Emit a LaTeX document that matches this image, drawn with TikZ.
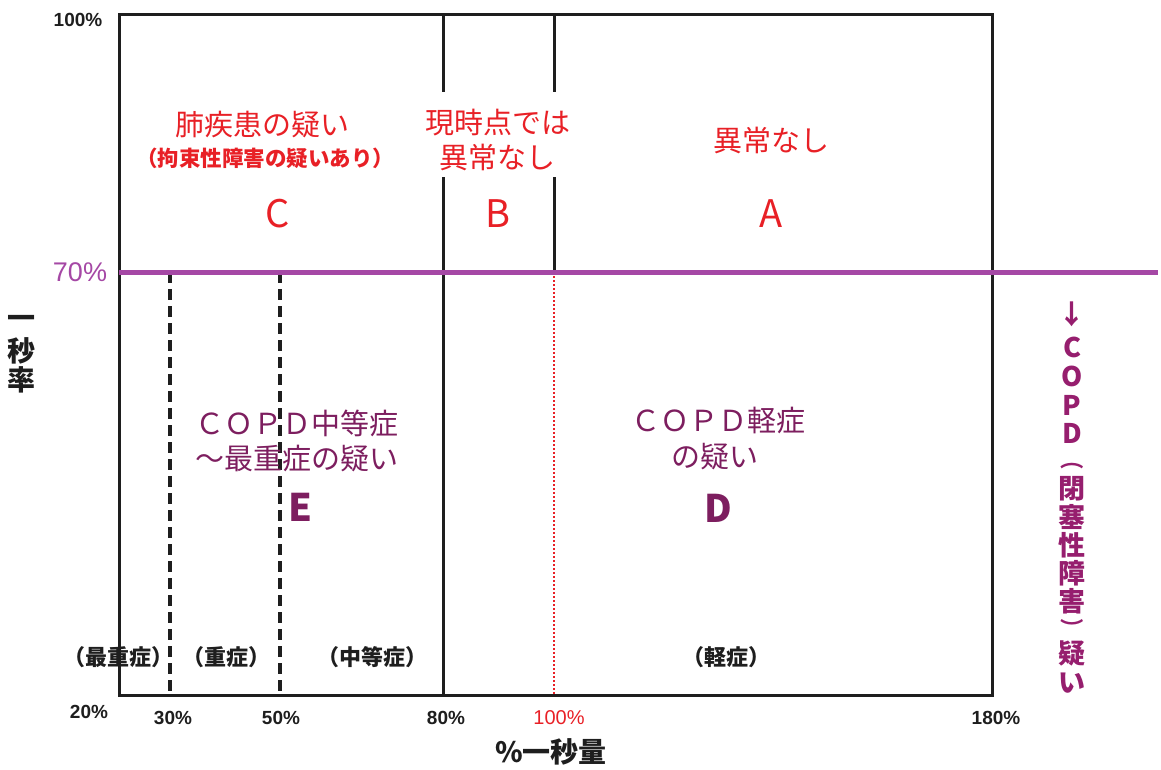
\documentclass[tikz,border=0pt]{standalone}
\usepackage{fontspec}
\setmainfont{Noto Sans CJK JP}
\newfontfamily\numfont{Liberation Sans}
\definecolor{cred}{RGB}{232,32,38}
\definecolor{cline}{RGB}{165,72,165}
\definecolor{cpur}{RGB}{125,30,95}
\definecolor{cmag}{RGB}{150,30,110}
\definecolor{cblk}{RGB}{30,30,30}
\begin{document}
\begin{tikzpicture}[x=1pt,y=-1pt,
  every node/.style={inner sep=0pt},
  frame/.style={draw=cblk,line width=3pt},
  dashv/.style={draw=cblk,line width=3.2pt,dash pattern=on 11pt off 6pt},
  redtxt/.style={text=cred,font=\fontsize{29}{32}\selectfont},
  redsmall/.style={text=cred,font=\bfseries\fontsize{21.5}{24}\selectfont},
  redletter/.style={text=cred,font=\fontsize{38}{40}\selectfont},
  purtxt/.style={text=cpur,font=\fontsize{29}{32}\selectfont},
  purletter/.style={text=cpur,font=\bfseries\fontsize{38}{40}\selectfont},
  sevlbl/.style={text=cblk,font=\bfseries\fontsize{22}{24}\selectfont},
  ticklbl/.style={text=cblk,font=\numfont\bfseries\fontsize{19}{22}\selectfont},
  axlbl/.style={text=cblk,font=\bfseries\fontsize{28}{30}\selectfont},
  vchar/.style={text=cmag,font=\bfseries\fontsize{27}{30}\selectfont},
  vparen/.style={text=cmag,font=\bfseries\fontsize{18}{20}\selectfont}
]
\useasboundingbox (0,0) rectangle (1161,769);
% coordinates
\coordinate (tl) at (119,14);
\coordinate (br) at (992,695);
\coordinate (l70) at (119,272);
\coordinate (r70) at (1158,272);
\coordinate (d30t) at (170,272);
\coordinate (d30b) at (170,695);
\coordinate (d50t) at (280,272);
\coordinate (d50b) at (280,695);
\coordinate (v80t) at (443,14);
\coordinate (v80a) at (443,92);
\coordinate (v80b) at (443,177);
\coordinate (v80e) at (443,695);
\coordinate (v100t) at (554,14);
\coordinate (v100a) at (554,92);
\coordinate (v100b) at (554,177);
\coordinate (v100m) at (554,272);
\coordinate (v100e) at (554,695);
% frame and lines
\draw[frame] (tl) rectangle (br);
\draw[frame] (v80t) -- (v80a);
\draw[frame] (v80b) -- (v80e);
\draw[frame] (v100t) -- (v100a);
\draw[frame] (v100b) -- (v100m);
\draw[cred,line width=1.5pt,dash pattern=on 1.8pt off 2.2pt] (v100m) -- (v100e);
\draw[dashv] (d30t) -- (d30b);
\draw[dashv] (d50t) -- (d50b);
\draw[cline,line width=5pt] (l70) -- (r70);
% upper texts
\node[redtxt] (c1) at (262,125) {肺疾患の疑い};
\node[redsmall] (c2) at (265,158) {（拘束性障害の疑いあり）};
\node[redletter] (c3) at (278,214) {C};
\node[redtxt] (b1) at (498,123) {現時点では};
\node[redtxt] (b2) at (497,157) {異常なし};
\node[redletter] (b3) at (498,214) {B};
\node[redtxt] (a1) at (771,140) {異常なし};
\node[redletter] (a3) at (771,214) {A};
% lower texts
\node[purtxt] (e1) at (297,423) {ＣＯＰＤ中等症};
\node[purtxt] (e2) at (297,459) {～最重症の疑い};
\node[purletter] (e3) at (300,507) {E};
\node[purtxt] (d1) at (718,420) {ＣＯＰＤ軽症};
\node[purtxt] (d2) at (715,457) {の疑い};
\node[purletter] (d3) at (718,508) {D};
% severity labels
\node[sevlbl] (s1) at (118,657) {（最重症）};
\node[sevlbl] (s2) at (226,657) {（重症）};
\node[sevlbl] (s3) at (372,657) {（中等症）};
\node[sevlbl] (s4) at (726,657) {（軽症）};
% ticks
\node[ticklbl] (t100) at (78,20) {100\%};
\node[text=cline,font=\numfont\fontsize{27}{30}\selectfont] (t70) at (80,272) {70\%};
\node[ticklbl] (t20) at (89,712) {20\%};
\node[ticklbl] (t30) at (173,718) {30\%};
\node[ticklbl] (t50) at (281,718) {50\%};
\node[ticklbl] (t80) at (446,718) {80\%};
\node[ticklbl,text=cred,font=\numfont\fontsize{20}{22}\selectfont] (t100b) at (559,718) {100\%};
\node[ticklbl] (t180) at (996,718) {180\%};
% axis labels
\node[axlbl] (xl) at (551,752) {\%一秒量};
\node[axlbl] (yl1) at (22,322) {一};
\node[axlbl] (yl2) at (22,351) {秒};
\node[axlbl] (yl3) at (22,380) {率};
% right vertical text
\foreach \ch/\yy [count=\i] in {↓/314,C/347,O/376,P/405,D/433,閉/489,塞/517,性/545,障/573,害/601,疑/653,い/683}
  \node[vchar] (v\i) at (1072,\yy) {\ch};
\node[vparen] (vp1) at (1072,466) {\scalebox{1.3}[1]{︵}};
\node[vparen] (vp2) at (1072,627) {\scalebox{1.3}[1]{︶}};
\end{tikzpicture}
\end{document}
